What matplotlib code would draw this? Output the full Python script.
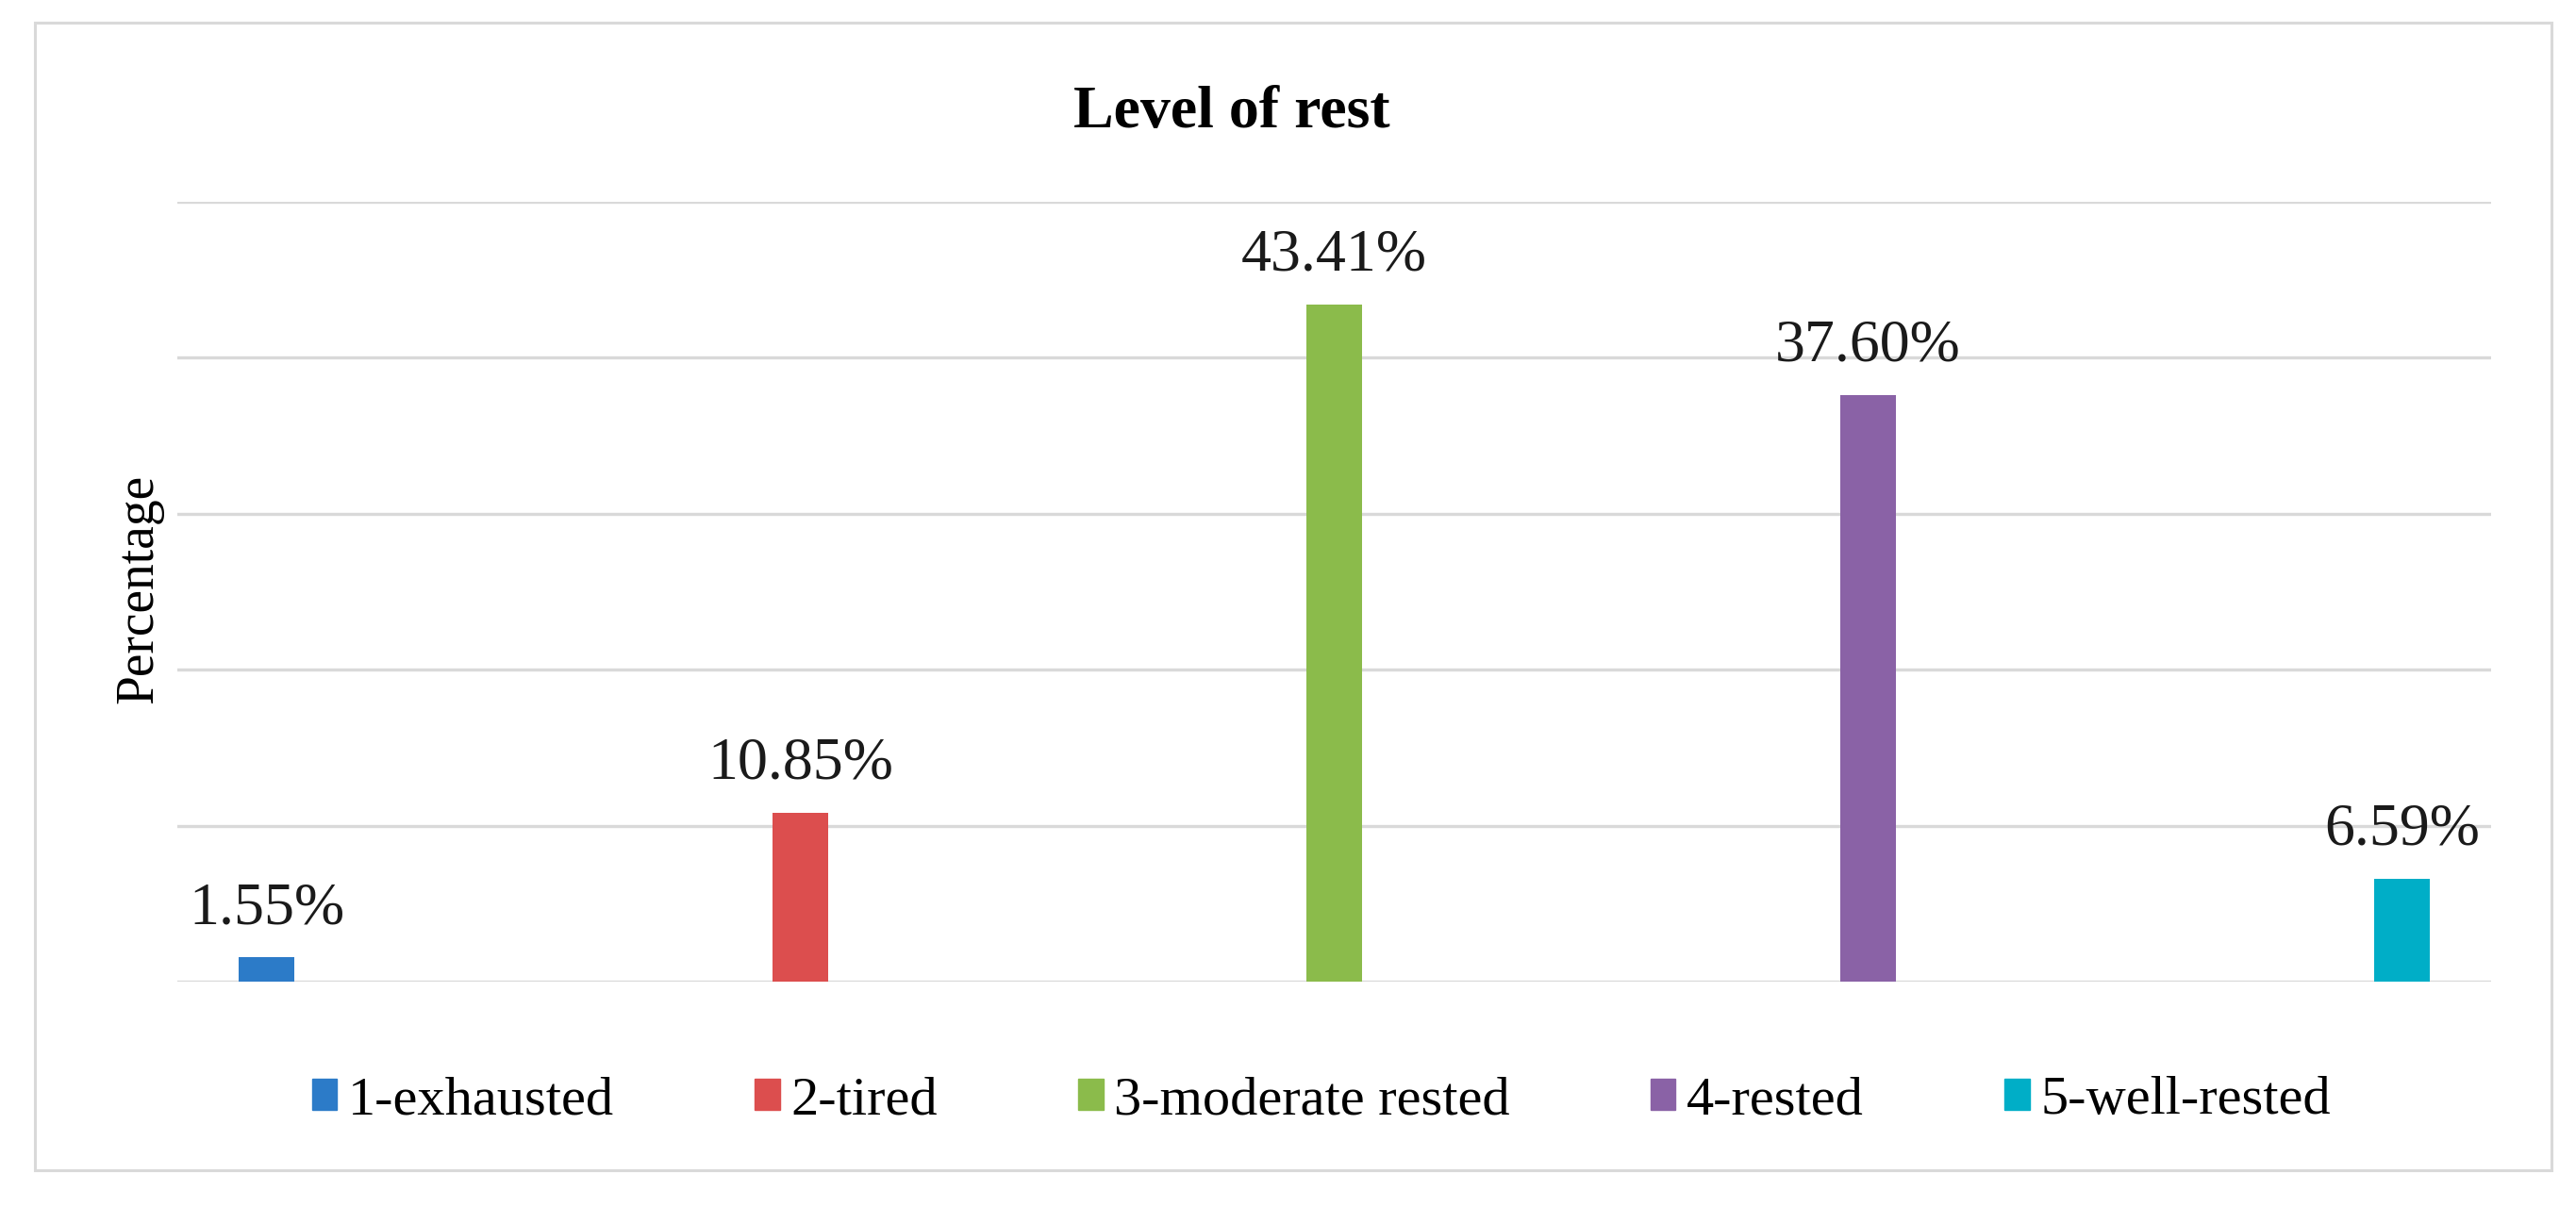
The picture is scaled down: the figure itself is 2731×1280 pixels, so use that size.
import numpy as np
import matplotlib
matplotlib.use("Agg")
import matplotlib.pyplot as plt
from matplotlib.patches import Rectangle

# data
categories = ["1-exhausted", "2-tired", "3-moderate rested", "4-rested", "5-well-rested"]
values = [1.55, 10.85, 43.41, 37.60, 6.59]
colors = ["#2C7BC8", "#DC4E4E", "#8BBB4B", "#8A62A6", "#00AEC7"]
y_ticks = [0, 10, 20, 30, 40, 50]

plt.rcParams['font.family'] = ['Liberation Serif', 'DejaVu Serif']

W, H = 2731, 1280
fig = plt.figure(figsize=(W / 100, H / 100), dpi=100)
fig.patch.set_facecolor("white")

# outer chart border
fig.patches.append(Rectangle((37 / W, 1 - 1241 / H), (2705 - 37) / W, (1241 - 24) / H,
                             transform=fig.transFigure, fill=False,
                             edgecolor="#D9D9D9", linewidth=2.2, zorder=0))

ax = fig.add_axes([188 / W, 1 - 1041 / H, (2641 - 188) / W, (1041 - 214) / H])
x = np.arange(len(categories))
bars = ax.bar(x, values, width=0.104, color=colors, label=categories, zorder=3)

ax.set_xlim(-0.167, 4.167)
ax.set_ylim(0, 50)
ax.set_yticks(y_ticks)
ax.yaxis.grid(True, color="#D9D9D9", linewidth=2.4, zorder=0)
ax.tick_params(left=False, bottom=False, labelleft=False, labelbottom=False)
for s in ax.spines.values():
    s.set_visible(False)

for xi, v in zip(x, values):
    ax.annotate("%.2f%%" % v, (xi, v), xytext=(0, 26), textcoords="offset points",
                ha="center", va="baseline", fontsize=46, color="#1a1a1a")

fig.text(0.478, 1 - 135 / H, "Level of rest", ha="center", va="baseline",
         fontsize=46, fontweight="bold")
fig.text(0.054, 1 - 624 / H, "Percentage", rotation=90, ha="center", va="center", fontsize=40)

handles = [Rectangle((0, 0), 1, 1, color=c) for c in colors]
fig.legend(handles, categories, loc="center", bbox_to_anchor=(0.513, 1 - 1167 / H),
           ncol=5, frameon=False, fontsize=42, handlelength=0.45, handleheight=0.5,
           handletextpad=0.2, columnspacing=2.56)

fig.savefig("out.png", dpi=100, facecolor="white")
